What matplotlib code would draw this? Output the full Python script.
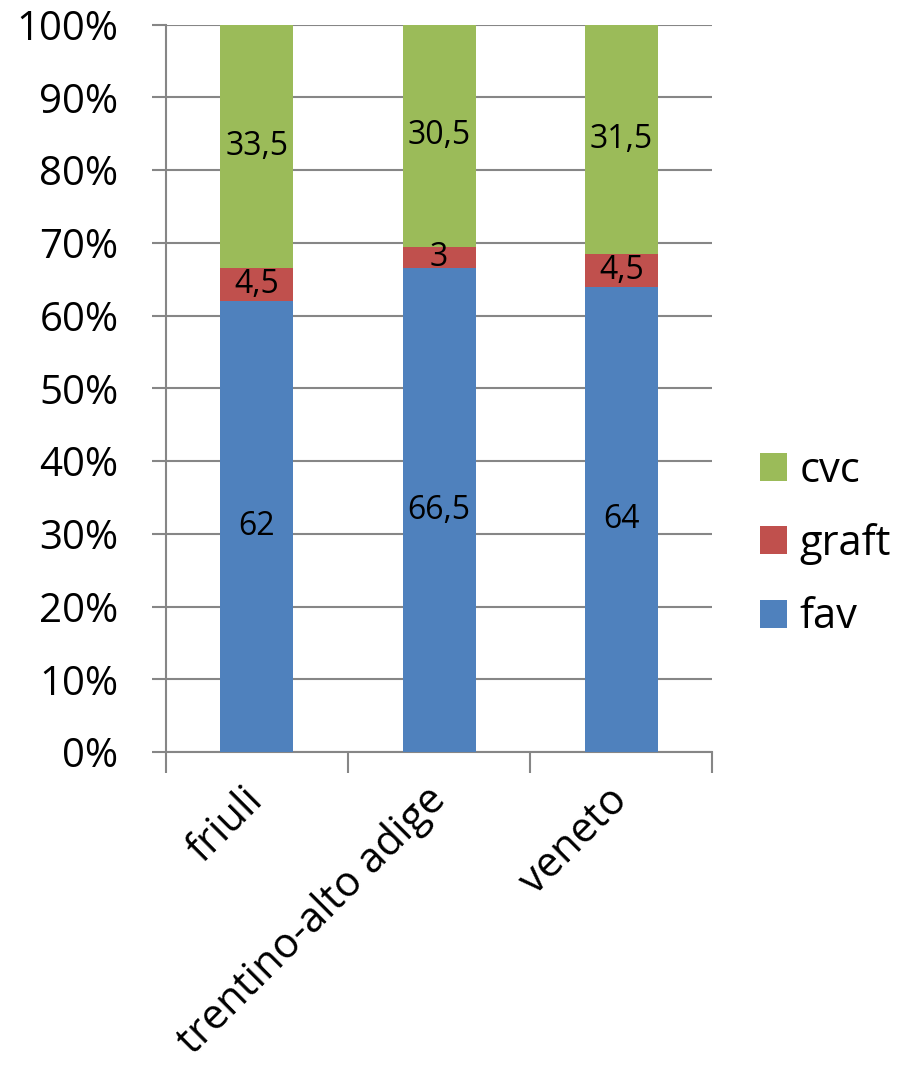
import matplotlib
matplotlib.use("Agg")
import matplotlib.pyplot as plt
import numpy as np

regions = ["friuli", "trentino-alto adige", "veneto"]
fav = [62, 66.5, 64]
graft = [4.5, 3, 4.5]
cvc = [33.5, 30.5, 31.5]

colors = {"fav": "#4F81BD", "graft": "#C0504D", "cvc": "#9BBB59"}
grid_c = "#868686"

plt.rcParams["font.family"] = ["Open Sans", "DejaVu Sans"]

fig = plt.figure(figsize=(9.11, 10.73), dpi=100)
ax = fig.add_axes([0.182, 0.299, 0.600, 0.678])

x = np.arange(len(regions))
series = [("fav", fav), ("graft", graft), ("cvc", cvc)]
bottom = np.zeros(len(regions))
handles = []
for name, vals in series:
    vals = np.array(vals, dtype=float)
    bars = ax.bar(x, vals, 0.4, bottom=bottom, color=colors[name],
                  label=name, zorder=3, linewidth=0)
    handles.append(bars)
    for xi, b, v in zip(x, bottom, vals):
        txt = f"{v:g}".replace(".", ",")
        ax.text(xi, b + v / 2, txt, ha="center", va="center",
                fontsize=23, color="black", zorder=4)
    bottom += vals

ax.set_xlim(-0.5, 2.5)
ax.set_ylim(0, 100)
ax.set_yticks(np.arange(0, 101, 10))
ax.set_yticklabels([f"{v}%" for v in range(0, 101, 10)], fontsize=29)
ax.yaxis.grid(True, color=grid_c, linewidth=1.5, zorder=0)

# category separators on the x axis
ax.set_xticks([-0.5, 0.5, 1.5, 2.5])
ax.set_xticklabels([])
ax.set_xticks(x, minor=True)
ax.set_xticklabels(regions, minor=True, rotation=45, ha="right",
                   va="center", rotation_mode="anchor", fontsize=30)
ax.tick_params(axis="x", which="minor", length=0, pad=30)
ax.tick_params(axis="x", which="major", length=15, width=1.5, color=grid_c)
ax.tick_params(axis="y", length=10, width=1.5, color=grid_c, pad=24)

for side in ["top", "right"]:
    ax.spines[side].set_visible(False)
for side in ["left", "bottom"]:
    ax.spines[side].set_color(grid_c)
    ax.spines[side].set_linewidth(1.5)

leg = fig.legend(handles[::-1], ["cvc", "graft", "fav"],
                 loc="center left", bbox_to_anchor=(0.816, 0.493),
                 frameon=False, fontsize=30, handlelength=0.65,
                 handleheight=0.65, handletextpad=0.3, labelspacing=0.75,
                 borderaxespad=0)

fig.savefig("out.png", dpi=100)
